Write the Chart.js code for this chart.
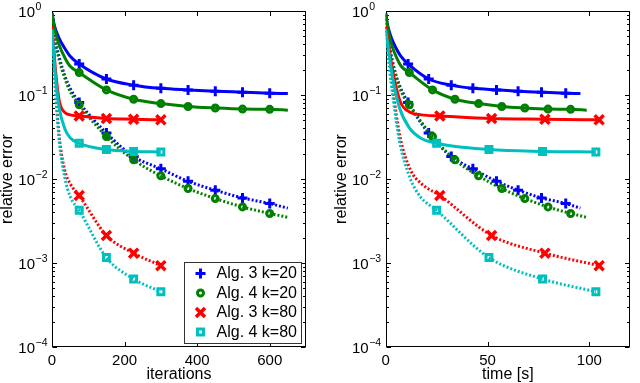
<!DOCTYPE html>
<html>
<head>
<meta charset="utf-8">
<script src="https://cdn.jsdelivr.net/npm/chart.js@4/dist/chart.umd.min.js"></script>
<style>
body { margin: 0; background: #fff; width: 640px; height: 383px; overflow: hidden; }
.pane { position: absolute; top: 0; width: 320px; height: 383px; }
</style>
</head>
<body>
<div class="pane" style="left:0"><canvas id="iterChart" width="320" height="383"></canvas></div>
<div class="pane" style="left:320px"><canvas id="timeChart" width="320" height="383"></canvas></div>
<script>
// tick labels
const iterTicks = [0, 200, 400, 600]
const timeTicks = [0, 50, 100]
const yTicks = [1e-4, 1e-3, 1e-2, 1e-1, 1]

// sample positions (iterations) and the matching run times [s]
const iters20 = [0, 5, 10, 20, 35, 50, 75, 150, 225, 300, 375, 450, 525, 600, 650]
const iters80 = [0, 5, 10, 20, 35, 50, 75, 150, 225, 300]
const time3k20 = [0, 0.7, 1.5, 2.9, 5.1, 7.4, 11, 21.1, 32.2, 42.8, 54.4, 65, 76.5, 88.4, 95.6]
const time4k20 = [0, 0.8, 1.5, 3, 5.3, 7.6, 11.6, 23, 34, 45.6, 57, 68.3, 79.7, 90.8, 98.7]
const time3k80 = [0, 1.7, 3.5, 7, 12.2, 17.5, 26.6, 52, 78.2, 104.8]
const time4k80 = [0, 1.7, 3.4, 6.8, 11.8, 16.9, 25, 50.7, 77, 103.2]

// relative error, solid and dotted curves
const err3k20 = [0.95, 0.72, 0.6, 0.47, 0.36, 0.29, 0.234, 0.155, 0.131, 0.12, 0.115, 0.111, 0.108, 0.105, 0.104]
const err3k20dot = [0.9, 0.55, 0.42, 0.28, 0.17, 0.12, 0.0815, 0.0352, 0.0185, 0.0132, 0.0094, 0.00735, 0.00596, 0.0051, 0.0045]
const err4k20 = [0.93, 0.68, 0.55, 0.39, 0.28, 0.22, 0.185, 0.115, 0.089, 0.079, 0.073, 0.07, 0.068, 0.0675, 0.066]
const err4k20dot = [0.9, 0.52, 0.4, 0.26, 0.16, 0.11, 0.0766, 0.032, 0.0169, 0.0109, 0.0077, 0.00585, 0.00465, 0.00389, 0.0035]
const err3k80 = [0.66, 0.35, 0.19, 0.085, 0.062, 0.058, 0.0564, 0.0525, 0.0515, 0.0506]
const err3k80dot = [0.66, 0.3, 0.12, 0.032, 0.0128, 0.0088, 0.00635, 0.00213, 0.00131, 0.00093]
const err4k80 = [0.6, 0.3, 0.16, 0.07, 0.04, 0.031, 0.0266, 0.0224, 0.0213, 0.021]
const err4k80dot = [0.6, 0.22, 0.1, 0.028, 0.0105, 0.0062, 0.00424, 0.00116, 0.000645, 0.000455]

const algs = [
    { label: "Alg. 3 k=20", color: "#0000ff", marker: "cross", iters: iters20, time: time3k20, solid: err3k20, dotted: err3k20dot },
    { label: "Alg. 4 k=20", color: "#008000", marker: "circle", iters: iters20, time: time4k20, solid: err4k20, dotted: err4k20dot },
    { label: "Alg. 3 k=80", color: "#ff0000", marker: "crossRot", iters: iters80, time: time3k80, solid: err3k80, dotted: err3k80dot },
    { label: "Alg. 4 k=80", color: "#00bfbf", marker: "rect", iters: iters80, time: time4k80, solid: err4k80, dotted: err4k80dot }
]
const markerSize = { cross: [5, 3], circle: [3, 3], crossRot: [6.4, 3.5], rect: [4.2, 3] }

const FONT = "'Liberation Sans', Arial, sans-serif"
Chart.defaults.font.family = FONT
Chart.defaults.color = "#000"

function makeDatasets(xKey) {
    const out = []
    algs.forEach(a => {
        const [r, bw] = markerSize[a.marker]
        ;["solid", "dotted"].forEach(kind => {
            out.push({
                label: a.label,
                data: a[xKey].map((x, i) => ({ x: x, y: a[kind][i] })),
                borderColor: a.color,
                backgroundColor: "transparent",
                borderWidth: 3,
                borderDash: kind == "solid" ? [] : [2, 2],
                cubicInterpolationMode: "monotone",
                pointStyle: a.marker,
                pointRadius: ctx => {
                    const it = a.iters[ctx.dataIndex]
                    return it > 0 && it % 75 == 0 ? r : 0
                },
                pointBorderWidth: bw,
                pointBorderColor: a.color,
                pointBackgroundColor: "transparent",
                fill: false,
                order: -out.length
            })
        })
    })
    return out
}

function line(c, x1, y1, x2, y2) {
    c.beginPath(); c.moveTo(x1, y1); c.lineTo(x2, y2); c.stroke()
}

// box, inside ticks and 10^n labels
const frame = {
    id: "frame",
    beforeDatasetsDraw(chart) {
        const c = chart.ctx, a = chart.chartArea
        const xs = chart.scales.x, ys = chart.scales.y
        const L = Math.round(a.left) + 0.5, R = Math.round(a.right) - 0.5
        const T = Math.round(a.top) + 0.5, B = Math.round(a.bottom) - 0.5
        c.save()
        c.strokeStyle = "#000"
        c.lineWidth = 1
        c.strokeRect(L, T, R - L, B - T)
        chart.options.plugins.frame.xTicks.forEach(v => {
            const px = Math.round(xs.getPixelForValue(v)) + 0.5
            line(c, px, B, px, B - 4.5)
            line(c, px, T, px, T + 4.5)
        })
        for (let d = -4; d <= 0; d++) {
            for (let m = 1; m <= 9; m++) {
                if (d == 0 && m > 1) break
                const py = Math.round(ys.getPixelForValue(m * Math.pow(10, d))) + 0.5
                const len = m == 1 ? 4.5 : 2.5
                line(c, L, py, L + len, py)
                line(c, R, py, R - len, py)
            }
        }
        c.fillStyle = "#000"
        c.textBaseline = "alphabetic"
        yTicks.forEach(v => {
            const py = ys.getPixelForValue(v)
            const e = Math.round(Math.log10(v))
            const xr = a.left - 17
            c.font = "15px " + FONT
            c.textAlign = "right"
            c.fillText("10", xr, py + 5.5)
            c.font = "10.5px " + FONT
            c.textAlign = "left"
            c.fillText(e < 0 ? "\u2212" + (-e) : String(e), xr + 0.5, py - 1)
        })
        c.restore()
    }
}

const legendBox = {
    id: "legendBox",
    afterDraw(chart) {
        const c = chart.ctx
        const bx = 184, by = 262, bwid = 117, bh = 81
        c.save()
        c.fillStyle = "#fff"
        c.fillRect(bx, by, bwid, bh)
        c.strokeStyle = "#333"
        c.lineWidth = 1
        c.strokeRect(bx + 0.5, by + 0.5, bwid, bh)
        algs.forEach((a, i) => {
            const cy = by + 11.5 + i * 19.5, cx = 200.5
            const [r, w] = markerSize[a.marker]
            c.strokeStyle = a.color
            c.lineWidth = w
            if (a.marker == "cross") {
                line(c, cx - r, cy, cx + r, cy); line(c, cx, cy - r, cx, cy + r)
            } else if (a.marker == "crossRot") {
                const k = r * Math.SQRT1_2
                line(c, cx - k, cy - k, cx + k, cy + k); line(c, cx - k, cy + k, cx + k, cy - k)
            } else if (a.marker == "circle") {
                c.beginPath(); c.arc(cx, cy, r, 0, Math.PI * 2); c.stroke()
            } else {
                const s = r * Math.SQRT1_2
                c.strokeRect(cx - s, cy - s, 2 * s, 2 * s)
            }
            c.fillStyle = "#000"
            c.font = "16px " + FONT
            c.textAlign = "left"
            c.textBaseline = "middle"
            c.fillText(a.label, 216.5, cy + 0.5)
        })
        c.restore()
    }
}

function makeChart(id, xKey, xMax, xTicks, xTitle, pad, yWidth, plugins) {
    return new Chart(document.getElementById(id), {
        type: "line",
        data: { datasets: makeDatasets(xKey) },
        plugins: plugins,
        options: {
            responsive: false,
            animation: false,
            events: [],
            layout: { padding: pad },
            plugins: {
                legend: { display: false },
                tooltip: { enabled: false },
                frame: { xTicks: xTicks }
            },
            scales: {
                x: {
                    type: "linear",
                    min: 0,
                    max: xMax,
                    afterBuildTicks: s => { s.ticks = xTicks.map(v => ({ value: v })) },
                    afterFit: s => { s.height = 36 },
                    grid: { display: false, drawTicks: false },
                    border: { display: false },
                    ticks: { font: { size: 15 }, padding: 5, maxRotation: 0 },
                    title: { display: true, text: xTitle, font: { size: 16, lineHeight: 1 }, padding: 0 }
                },
                y: {
                    type: "logarithmic",
                    min: 1e-4,
                    max: 1,
                    afterBuildTicks: s => { s.ticks = yTicks.map(v => ({ value: v })) },
                    afterFit: s => { s.width = yWidth },
                    grid: { display: false, drawTicks: false },
                    border: { display: false },
                    ticks: { display: false },
                    title: { display: true, text: "relative error", font: { size: 16, lineHeight: 1 }, padding: 0 }
                }
            }
        }
    })
}

makeChart("iterChart", "iters", 700, iterTicks, "iterations",
    { left: 0, right: 14, top: 11, bottom: 0 }, 52, [frame, legendBox])
makeChart("timeChart", "time", 120, timeTicks, "time [s]",
    { left: 14, right: 3, top: 11, bottom: 0 }, 51.7, [frame])
</script>
</body>
</html>
